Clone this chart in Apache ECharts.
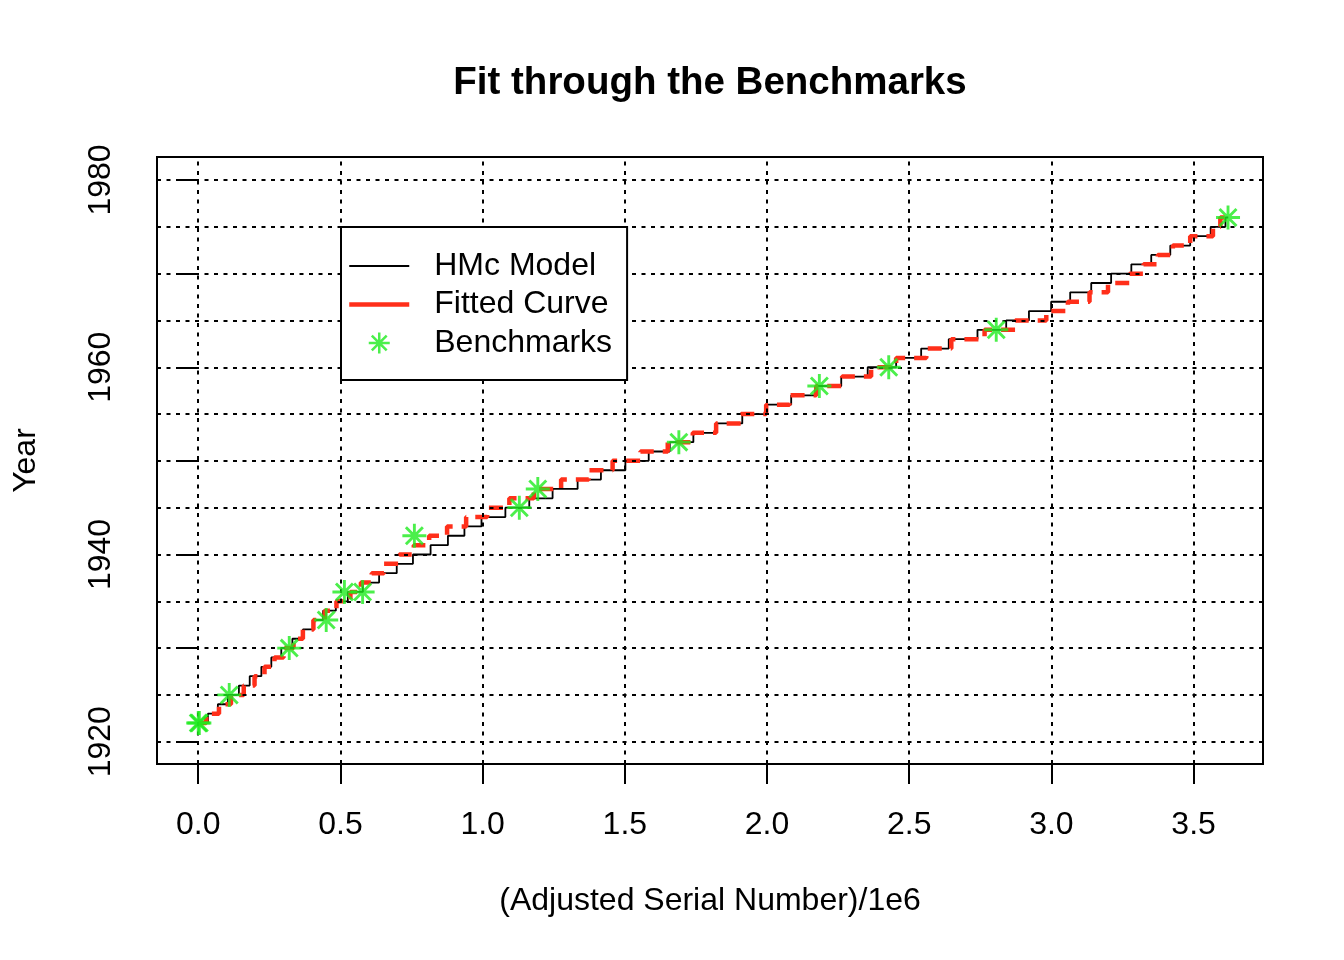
<!DOCTYPE html>
<html>
<head>
<meta charset="utf-8">
<title>Fit through the Benchmarks</title>
<script src="https://cdn.jsdelivr.net/npm/echarts@6/dist/echarts.min.js"></script>
<style>
  html, body { margin: 0; padding: 0; background: #fff; }
  #chart { width: 1344px; height: 960px; }
</style>
</head>
<body>
<div id="chart"></div>
<script>
// --- data ---
var years = [
  1922, 1923, 1924, 1925, 1926, 1927, 1928, 1929, 1930, 1931,
  1932, 1933, 1934, 1935, 1936, 1937, 1938, 1939, 1940, 1941,
  1942, 1943, 1944, 1945, 1946, 1947, 1948, 1949, 1950, 1951,
  1952, 1953, 1954, 1955, 1956, 1957, 1958, 1959, 1960, 1961,
  1962, 1963, 1964, 1965, 1966, 1967, 1968, 1969, 1970, 1971,
  1972, 1973, 1974, 1975, 1976
];

// serial number (/1e6) where each year starts
var hmcX = [
  0.005, 0.034, 0.069, 0.104, 0.143, 0.181, 0.222, 0.257, 0.292, 0.331,
  0.368, 0.403, 0.439, 0.484, 0.526, 0.579, 0.636, 0.698, 0.755, 0.817,
  0.878, 0.936, 0.996, 1.080, 1.164, 1.246, 1.334, 1.416, 1.502, 1.584,
  1.658, 1.741, 1.823, 1.913, 1.998, 2.085, 2.175, 2.261, 2.354, 2.454,
  2.542, 2.639, 2.740, 2.841, 2.921, 2.999, 3.066, 3.140, 3.210, 3.281,
  3.351, 3.418, 3.488, 3.560, 3.612
];
var hmcEnd = 3.622;

var fitX = [
  0.000, 0.028, 0.073, 0.115, 0.160, 0.198, 0.233, 0.268, 0.300, 0.335,
  0.368, 0.405, 0.445, 0.486, 0.535, 0.572, 0.610, 0.653, 0.707, 0.758,
  0.812, 0.875, 0.942, 1.016, 1.094, 1.180, 1.276, 1.373, 1.457, 1.555,
  1.651, 1.739, 1.821, 1.909, 1.997, 2.079, 2.173, 2.264, 2.366, 2.454,
  2.560, 2.648, 2.765, 2.873, 2.982, 3.058, 3.134, 3.199, 3.275, 3.324,
  3.374, 3.427, 3.488, 3.568, 3.594
];
var fitEnd = 3.625;

var benchX = [0.000, 0.004, 0.109, 0.320, 0.450, 0.514, 0.578, 0.760,
              1.129, 1.194, 1.690, 2.184, 2.428, 2.806, 3.621];
var benchY = [1922, 1922, 1925, 1930, 1933, 1936, 1936, 1942,
              1945, 1947, 1952, 1958, 1960, 1964, 1976];

var xTicks = [0, 0.5, 1, 1.5, 2, 2.5, 3, 3.5];
var yTicks = [1920, 1930, 1940, 1950, 1960, 1970, 1980];
var yLabels = [1920, 1940, 1960, 1980];
var yGrid = [1920, 1925, 1930, 1935, 1940, 1945, 1950, 1955, 1960, 1965, 1970, 1975, 1980];

(function() {
  var font = '"Liberation Sans", Arial, Helvetica, sans-serif';
  var ink = '#000000';
  var red = '#FF2F1A';
  var green = '#1EEB1E';

  // R pch=8 style asterisk, built from four thin bars
  var asterisk = 'path://M44,0L56,0L56,100L44,100Z' +
    'M0,44L100,44L100,56L0,56Z' +
    'M18.9,10.4L89.6,81.1L81.1,89.6L10.4,18.9Z' +
    'M89.6,18.9L18.9,89.6L10.4,81.1L81.1,10.4Z';

  function steps(xs, end) {
    var pts = years.map(function(y, i) { return [xs[i], y]; });
    pts.push([end, years[years.length - 1]]);
    return pts;
  }

  var gridLines = xTicks.map(function(v) { return { xAxis: v }; })
    .concat(yGrid.map(function(v) { return { yAxis: v }; }));

  var hidden = { color: 'rgba(0,0,0,0)', borderWidth: 0, opacity: 0 };

  var chart = echarts.init(document.getElementById('chart'), null, { renderer: 'canvas' });

  chart.setOption({
    animation: false,
    backgroundColor: '#ffffff',
    textStyle: { fontFamily: font, color: ink },
    title: {
      text: 'Fit through the Benchmarks',
      left: 710,
      top: 64,
      padding: 0,
      textAlign: 'center',
      textStyle: { fontFamily: font, fontSize: 38.5, fontWeight: 'bold', color: ink }
    },
    legend: {
      orient: 'vertical',
      left: 341,
      top: 227,
      z: 20,
      padding: [23, 15, 21, 6],
      itemGap: 6.5,
      itemWidth: 60,
      itemHeight: 21,
      backgroundColor: '#ffffff',
      borderColor: ink,
      borderWidth: 2,
      borderRadius: 0,
      selectedMode: false,
      textStyle: { fontFamily: font, fontSize: 32, color: ink, lineHeight: 32, padding: [0, 0, 0, 20] },
      data: [
        { name: 'HMc Model', itemStyle: hidden, lineStyle: { type: 'solid', width: 1.8, color: ink } },
        { name: 'Fitted Curve', itemStyle: hidden, lineStyle: { type: 'solid', width: 4.5, color: red } },
        { name: 'Benchmarks' }
      ]
    },
    grid: {
      left: 157,
      top: 157,
      width: 1106,
      height: 607,
      show: true,
      borderColor: ink,
      borderWidth: 2,
      backgroundColor: 'transparent'
    },
    xAxis: {
      type: 'value',
      min: -0.145,
      max: 3.744,
      name: '(Adjusted Serial Number)/1e6',
      nameLocation: 'middle',
      nameGap: 121,
      nameTextStyle: { fontFamily: font, fontSize: 32, color: ink },
      axisLine: { show: false },
      splitLine: { show: false },
      axisTick: {
        show: true,
        customValues: xTicks,
        length: 20,
        lineStyle: { color: ink, width: 2 }
      },
      axisLabel: {
        customValues: xTicks,
        margin: 45,
        fontFamily: font,
        fontSize: 32,
        color: ink,
        formatter: function(v) { return v.toFixed(1); }
      }
    },
    yAxis: {
      type: 'value',
      min: 1917.62,
      max: 1982.46,
      name: 'Year',
      nameLocation: 'middle',
      nameRotate: 90,
      nameGap: 115,
      nameTextStyle: { fontFamily: font, fontSize: 32, color: ink },
      axisLine: { show: false },
      splitLine: { show: false },
      axisTick: {
        show: true,
        customValues: yTicks,
        length: 20,
        lineStyle: { color: ink, width: 2 }
      },
      axisLabel: {
        customValues: yLabels,
        rotate: 90,
        margin: 40,
        fontFamily: font,
        fontSize: 32,
        color: ink,
        formatter: function(v) { return String(v); }
      }
    },
    series: [
      {
        name: 'grid',
        type: 'line',
        data: [],
        silent: true,
        z: 1,
        markLine: {
          silent: true,
          symbol: 'none',
          label: { show: false },
          lineStyle: { color: ink, type: [4, 5.5], width: 2 },
          data: gridLines
        }
      },
      {
        name: 'HMc Model',
        type: 'line',
        step: 'end',
        data: steps(hmcX, hmcEnd),
        symbol: 'none',
        z: 3,
        lineStyle: { color: ink, width: 1.8 },
        itemStyle: { color: ink }
      },
      {
        name: 'Fitted Curve',
        type: 'line',
        step: 'end',
        data: steps(fitX, fitEnd),
        symbol: 'none',
        z: 4,
        lineStyle: { color: red, width: 4.5, type: [14, 9] },
        itemStyle: { color: red }
      },
      {
        name: 'Benchmarks',
        type: 'scatter',
        data: benchX.map(function(x, i) { return [x, benchY[i]]; }),
        symbol: asterisk,
        symbolSize: 24,
        z: 5,
        itemStyle: { color: green }
      }
    ]
  });

  window.addEventListener('resize', function() { chart.resize(); });
})();
</script>
</body>
</html>
